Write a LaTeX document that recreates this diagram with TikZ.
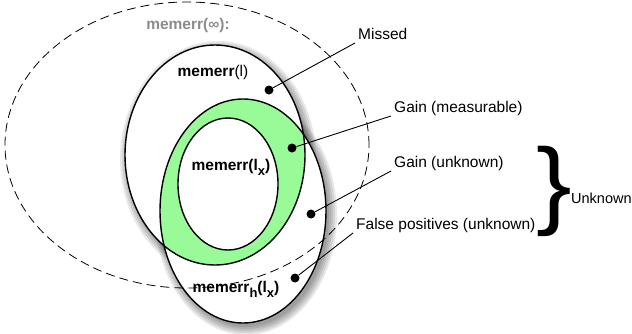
\documentclass[tikz,border=0pt]{standalone}
\usepackage{fontspec}
\setmainfont{Liberation Sans}
\usetikzlibrary{arrows.meta,calc,positioning}
\definecolor{gainfill}{RGB}{152,251,152}
\definecolor{infgray}{RGB}{140,140,140}
\newcommand{\lowsub}[1]{\raisebox{-5pt}{\fontsize{13}{13}\selectfont #1}}

\begin{document}
\begin{tikzpicture}[x=1pt,y=-1pt,>=Stealth,font=\fontsize{15.5}{18}\selectfont,
  set/.style={draw,line width=1.4pt},
  shade/.style={fill=black,opacity=0.09},
  dot/.style={circle,fill,inner sep=0pt,minimum size=9pt},
  lbl/.style={anchor=base west,inner sep=0pt}]
\useasboundingbox (0,0) rectangle (632,333);
\foreach \r in {8,6,4,2,0}{
\fill[shade] (218,159) ellipse [x radius=90pt+\r pt,y radius=110pt+\r pt];
\fill[shade] (246,215) ellipse [x radius=83pt+\r pt,y radius=112pt+\r pt];
}
\fill[white] (215,155) ellipse [x radius=90pt,y radius=110pt];
\fill[white] (243,211) ellipse [x radius=83pt,y radius=112pt];
\begin{scope}
\clip (215,155) ellipse [x radius=90pt,y radius=110pt];
\fill[gainfill] (243,211) ellipse [x radius=83pt,y radius=112pt];
\end{scope}
\draw[set,fill=white] (228,184) ellipse [x radius=50pt,y radius=66pt];
\draw[set] (215,155) ellipse [x radius=90pt,y radius=110pt];
\draw[set] (243,211) ellipse [x radius=83pt,y radius=112pt];
\draw[line width=0.8pt,dash pattern=on 9pt off 5pt] (187,145) ellipse [x radius=182pt,y radius=143pt];

\node[text=infgray,font=\fontsize{15.5}{18}\selectfont\bfseries] (minf) at (188,25) {memerr(∞):};
\node (ml) at (213,72) {\textbf{memerr}(l)};
\node (mlx) at (231,167) {\textbf{memerr(l\lowsub{x})}};
\node (mhlx) at (236,289) {\textbf{memerr\lowsub{h}(l\lowsub{x})}};

\foreach \n/\dx/\dy/\lx/\ly/\t in {miss/269/90/358/39/Missed,gm/292/148/394/112/Gain (measurable),
  gu/311/214/394/167/Gain (unknown),fp/295/278/356/229/False positives (unknown)}{
\node[dot] (d\n) at (\dx,\dy) {};
\node[lbl] (l\n) at (\lx,\ly) {\t};
\draw[line width=0.9pt] (d\n) -- ([xshift=-3pt,yshift=-4pt]l\n.base west);
}
\node[font=\fontsize{97}{97}\selectfont,inner sep=0pt,xscale=1.1] (brace) at (554,191.5) {\}};
\node[lbl,font=\fontsize{14.5}{17}\selectfont] (unk) at (571,203) {Unknown};
\end{tikzpicture}
\end{document}
